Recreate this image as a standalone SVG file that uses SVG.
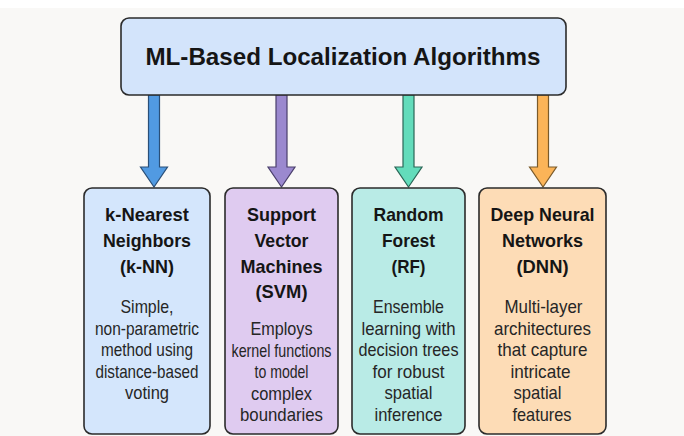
<svg xmlns="http://www.w3.org/2000/svg" width="684" height="436" viewBox="0 0 684 436">
  <style>
    .box { stroke: #2b2b2b; stroke-width: 1.6; }
    .title { font-family: "Liberation Sans", Arial, sans-serif; font-weight: bold; font-size: 18.5px; fill: #151515; text-anchor: middle; }
    .desc { font-family: "Liberation Sans", Arial, sans-serif; font-size: 18.5px; fill: #262626; text-anchor: middle; }
    .arrow { stroke-width: 1.2; stroke-linejoin: miter; }
  </style>
  <rect x="0" y="0" width="684" height="436" fill="#f9f8f6"/>
  <rect x="0" y="0" width="684" height="8" fill="#ffffff"/>

  <g id="connectors">
    <path class="arrow" fill="#519ae2" stroke="#2a4f78" d="M148.5,95 L159.5,95 L159.5,167 L167.5,167 L154,187 L140.5,167 L148.5,167 Z"/>
    <path class="arrow" fill="#9b89cf" stroke="#4a3f6c" d="M276,95 L287,95 L287,167 L295,167 L281.5,187 L268,167 L276,167 Z"/>
    <path class="arrow" fill="#63dcbb" stroke="#2a6656" d="M403,95 L414,95 L414,167 L422,167 L408.5,187 L395,167 L403,167 Z"/>
    <path class="arrow" fill="#fbb458" stroke="#7a5a2a" d="M537.5,95 L548.5,95 L548.5,167 L556.5,167 L543,187 L529.5,167 L537.5,167 Z"/>
  </g>

  <g id="root">
    <rect class="box" x="121" y="18" width="445" height="77" rx="8" fill="#d3e4fb"/>
    <text x="343" y="65" font-family="Liberation Sans, Arial, sans-serif" font-weight="bold" font-size="24" fill="#151515" text-anchor="middle" textLength="395" lengthAdjust="spacingAndGlyphs">ML-Based Localization Algorithms</text>
  </g>

  <g id="knn">
    <rect class="box" x="84" y="188" width="126" height="246" rx="8" fill="#d4e6fc"/>
    <text class="title" x="147" y="221" textLength="84" lengthAdjust="spacingAndGlyphs">k-Nearest</text>
    <text class="title" x="147" y="247" textLength="88" lengthAdjust="spacingAndGlyphs">Neighbors</text>
    <text class="title" x="147" y="273" textLength="54" lengthAdjust="spacingAndGlyphs">(k-NN)</text>
    <text class="desc" x="147" y="313" textLength="53" lengthAdjust="spacingAndGlyphs">Simple,</text>
    <text class="desc" x="147" y="334.6" textLength="104" lengthAdjust="spacingAndGlyphs">non-parametric</text>
    <text class="desc" x="147" y="356.2" textLength="92" lengthAdjust="spacingAndGlyphs">method using</text>
    <text class="desc" x="147" y="377.8" textLength="103" lengthAdjust="spacingAndGlyphs">distance-based</text>
    <text class="desc" x="147" y="399.4" textLength="44" lengthAdjust="spacingAndGlyphs">voting</text>
  </g>

  <g id="svm">
    <rect class="box" x="225" y="188" width="113" height="246" rx="8" fill="#dfcbf0"/>
    <text class="title" x="281.5" y="221" textLength="69" lengthAdjust="spacingAndGlyphs">Support</text>
    <text class="title" x="281.5" y="247" textLength="54" lengthAdjust="spacingAndGlyphs">Vector</text>
    <text class="title" x="281.5" y="273" textLength="82" lengthAdjust="spacingAndGlyphs">Machines</text>
    <text class="title" x="281.5" y="298" textLength="52" lengthAdjust="spacingAndGlyphs">(SVM)</text>
    <text class="desc" x="281.5" y="335" textLength="62" lengthAdjust="spacingAndGlyphs">Employs</text>
    <text class="desc" x="281.5" y="356.6" textLength="100" lengthAdjust="spacingAndGlyphs">kernel functions</text>
    <text class="desc" x="281.5" y="378.2" textLength="54" lengthAdjust="spacingAndGlyphs">to model</text>
    <text class="desc" x="281.5" y="399.8" textLength="61" lengthAdjust="spacingAndGlyphs">complex</text>
    <text class="desc" x="281.5" y="421.4" textLength="83" lengthAdjust="spacingAndGlyphs">boundaries</text>
  </g>

  <g id="rf">
    <rect class="box" x="352" y="188" width="113" height="246" rx="8" fill="#b9ebe6"/>
    <text class="title" x="408.5" y="221" textLength="70" lengthAdjust="spacingAndGlyphs">Random</text>
    <text class="title" x="408.5" y="247" textLength="53" lengthAdjust="spacingAndGlyphs">Forest</text>
    <text class="title" x="408.5" y="273" textLength="34" lengthAdjust="spacingAndGlyphs">(RF)</text>
    <text class="desc" x="408.5" y="313" textLength="71" lengthAdjust="spacingAndGlyphs">Ensemble</text>
    <text class="desc" x="408.5" y="334.6" textLength="94" lengthAdjust="spacingAndGlyphs">learning with</text>
    <text class="desc" x="408.5" y="356.2" textLength="100" lengthAdjust="spacingAndGlyphs">decision trees</text>
    <text class="desc" x="408.5" y="377.8" textLength="72" lengthAdjust="spacingAndGlyphs">for robust</text>
    <text class="desc" x="408.5" y="399.4" textLength="48" lengthAdjust="spacingAndGlyphs">spatial</text>
    <text class="desc" x="408.5" y="421" textLength="68" lengthAdjust="spacingAndGlyphs">inference</text>
  </g>

  <g id="dnn">
    <rect class="box" x="479" y="188" width="127" height="246" rx="8" fill="#fddcb6"/>
    <text class="title" x="542.5" y="221" textLength="104" lengthAdjust="spacingAndGlyphs">Deep Neural</text>
    <text class="title" x="542.5" y="247" textLength="81" lengthAdjust="spacingAndGlyphs">Networks</text>
    <text class="title" x="542.5" y="273" textLength="52" lengthAdjust="spacingAndGlyphs">(DNN)</text>
    <text class="desc" x="543.5" y="313" textLength="78" lengthAdjust="spacingAndGlyphs">Multi-layer</text>
    <text class="desc" x="542.5" y="334.6" textLength="97" lengthAdjust="spacingAndGlyphs">architectures</text>
    <text class="desc" x="542.5" y="356.2" textLength="90" lengthAdjust="spacingAndGlyphs">that capture</text>
    <text class="desc" x="540.5" y="377.8" textLength="60" lengthAdjust="spacingAndGlyphs">intricate</text>
    <text class="desc" x="537.5" y="399.4" textLength="48" lengthAdjust="spacingAndGlyphs">spatial</text>
    <text class="desc" x="542" y="421" textLength="59" lengthAdjust="spacingAndGlyphs">features</text>
  </g>
</svg>
